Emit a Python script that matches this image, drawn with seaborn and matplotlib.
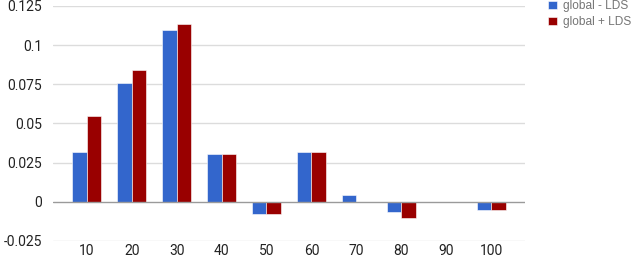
import pandas as pd
import numpy as np
import seaborn as sns
import matplotlib.pyplot as plt

# Values
categories = ["10", "20", "30", "40", "50", "60", "70", "80", "90", "100"]
global_minus_lds = [0.0315, 0.0760, 0.1097, 0.0306, -0.0077, 0.0315, 0.0043, -0.0066, 0.0, -0.0055]
global_plus_lds = [0.0550, 0.0842, 0.1135, 0.0306, -0.0077, 0.0315, 0.0, -0.0104, 0.0, -0.0055]
series_names = ["global - LDS", "global + LDS"]
y_ticks = [-0.025, 0, 0.025, 0.05, 0.075, 0.1, 0.125]
y_tick_labels = ["-0.025", "0", "0.025", "0.05", "0.075", "0.1", "0.125"]

df = pd.DataFrame({
    "bucket": categories * 2,
    "value": global_minus_lds + global_plus_lds,
    "series": [series_names[0]] * len(categories) + [series_names[1]] * len(categories),
})

sns.set_style("white")
plt.rcParams["font.family"] = ["Roboto", "DejaVu Sans"]

fig = plt.figure(figsize=(6.4, 2.58), dpi=100)
ax = fig.add_axes([0.083, 0.066, 0.737, 0.911])

sns.barplot(data=df, x="bucket", y="value", hue="series", order=categories,
            palette=["#3366cc", "#990000"], saturation=1, width=0.65,
            edgecolor="white", linewidth=0.4, ax=ax, legend=True, zorder=3)

ax.set_ylim(-0.025, 0.125)
ax.set_xlim(-0.75, 9.75)
ax.set_yticks(y_ticks)
ax.set_yticklabels(y_tick_labels)
for v in y_ticks:
    if v == 0:
        ax.axhline(v, color="#9a9a9a", lw=1.0, zorder=4)
    else:
        ax.axhline(v, color="#dcdcdc", lw=1.0, zorder=1)

ax.set_xlabel("")
ax.set_ylabel("")
ax.tick_params(axis="both", length=0, labelsize=10, colors="#222222")
ax.tick_params(axis="y", pad=8)
ax.tick_params(axis="x", pad=2)
sns.despine(ax=ax, left=True, bottom=True, top=True, right=True)

leg = ax.legend(loc="upper left", bbox_to_anchor=(1.04, 1.045), frameon=False,
                fontsize=8.6, handlelength=0.7, handleheight=0.6, handletextpad=0.55,
                labelspacing=0.35, borderaxespad=0)
for t in leg.get_texts():
    t.set_color("#757575")
    t.set_family(["Liberation Sans", "DejaVu Sans"])

fig.savefig("out.png", dpi=100)
